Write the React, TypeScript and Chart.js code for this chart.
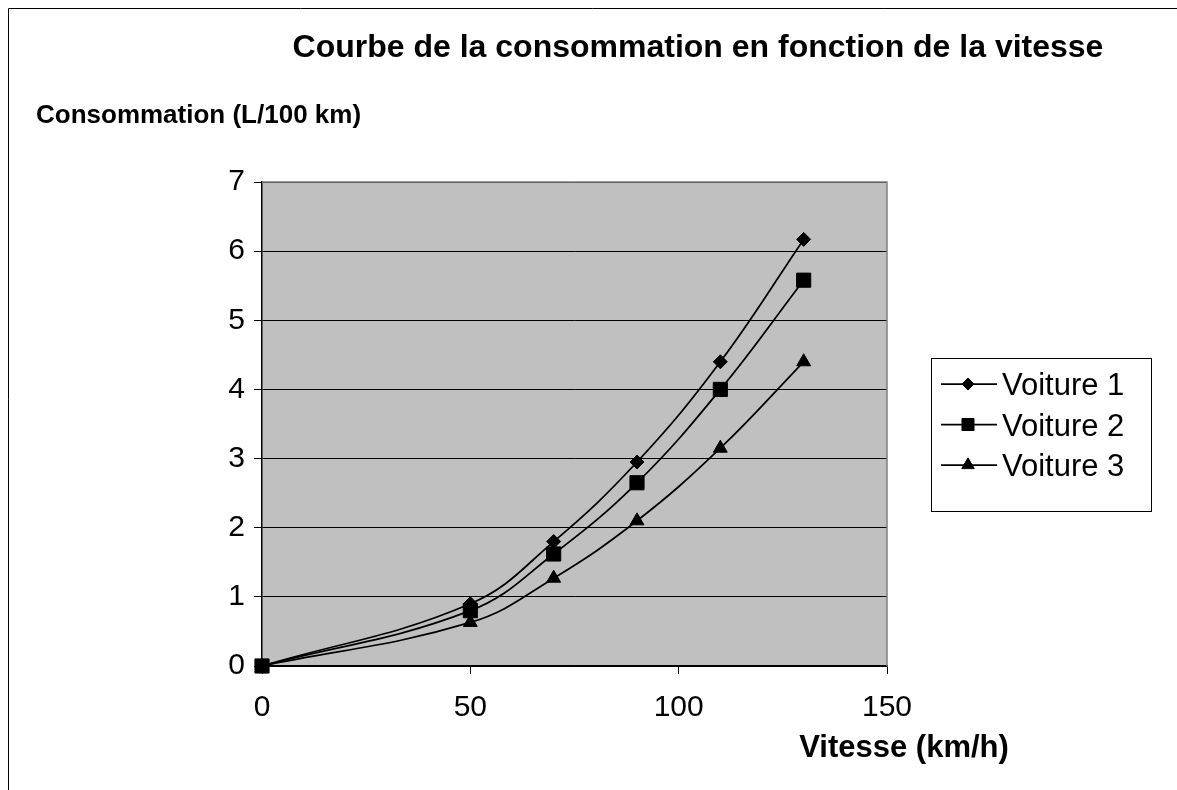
import React, { useEffect, useRef } from 'react';
import { Chart, registerables } from 'chart.js';
import { drawPoint } from 'chart.js/helpers';

Chart.register(...registerables);

const speeds = [0, 50, 70, 90, 110, 130];
const voiture1 = [0, 0.9, 1.8, 2.95, 4.4, 6.17];
const voiture2 = [0, 0.8, 1.62, 2.65, 4.0, 5.58];
const voiture3 = [0, 0.63, 1.27, 2.1, 3.15, 4.4];
const seriesNames = ['Voiture 1', 'Voiture 2', 'Voiture 3'];
const seriesValues = [voiture1, voiture2, voiture3];
const pointStyles = ['rectRot', 'rect', 'triangle'];
const pointRadii = [7, 10, 8];
const legendRadii = [6, 8.5, 7.2];
const chartTitle = 'Courbe de la consommation en fonction de la vitesse';
const yTitle = 'Consommation (L/100 km)';
const xTitle = 'Vitesse (km/h)';

const FONT = '"Liberation Sans", Arial, sans-serif';

const decorPlugin = {
  id: 'decor',
  beforeDraw(chart: any) {
    const { ctx, chartArea: a } = chart;
    ctx.save();
    ctx.fillStyle = '#fff';
    ctx.fillRect(0, 0, chart.width, chart.height);
    ctx.fillStyle = '#C0C0C0';
    ctx.fillRect(a.left, a.top, a.right - a.left, a.bottom - a.top);
    ctx.restore();
  },
  beforeDatasetsDraw(chart: any) {
    const { ctx, chartArea: a } = chart;
    ctx.save();
    ctx.strokeStyle = '#808080';
    ctx.lineWidth = 1.5;
    ctx.beginPath();
    ctx.moveTo(a.left, a.top);
    ctx.lineTo(a.right, a.top);
    ctx.lineTo(a.right, a.bottom);
    ctx.stroke();
    ctx.restore();
  },
  afterDraw(chart: any) {
    const { ctx } = chart;
    ctx.save();
    // outer frame (left and top)
    ctx.strokeStyle = '#000';
    ctx.lineWidth = 1;
    ctx.beginPath();
    ctx.moveTo(8.5, chart.height);
    ctx.lineTo(8.5, 8.5);
    ctx.lineTo(chart.width, 8.5);
    ctx.stroke();

    ctx.fillStyle = '#000';
    ctx.textBaseline = 'alphabetic';
    ctx.font = `bold 32px ${FONT}`;
    ctx.textAlign = 'center';
    ctx.fillText(chartTitle, 698, 57);

    ctx.font = `bold 26px ${FONT}`;
    ctx.textAlign = 'left';
    ctx.fillText(yTitle, 36, 123);

    ctx.font = `bold 31px ${FONT}`;
    ctx.textAlign = 'center';
    ctx.fillText(xTitle, 904, 757);

    // legend
    ctx.lineWidth = 1;
    ctx.strokeStyle = '#000';
    ctx.strokeRect(931.5, 358.5, 220, 153);
    ctx.font = `31px ${FONT}`;
    ctx.textAlign = 'left';
    const baselines = [395, 435.5, 476];
    seriesNames.forEach((name, i) => {
      const ly = baselines[i] - 11;
      ctx.strokeStyle = '#000';
      ctx.lineWidth = 1.75;
      ctx.beginPath();
      ctx.moveTo(941, ly);
      ctx.lineTo(997, ly);
      ctx.stroke();
      ctx.fillStyle = '#000';
      ctx.lineWidth = 1;
      drawPoint(ctx, { pointStyle: pointStyles[i], rotation: 0, radius: legendRadii[i], borderWidth: 1 } as any, 968, ly);
      ctx.fillStyle = '#000';
      ctx.fillText(name, 1002, baselines[i]);
    });
    ctx.restore();
  },
};

export default function App() {
  const ref = useRef<HTMLCanvasElement>(null);
  useEffect(() => {
    if (!ref.current) return;
    Chart.defaults.font.family = FONT;
    const chart = new Chart(ref.current, {
      type: 'line',
      data: {
        datasets: seriesNames.map((name, i) => ({
          label: name,
          data: speeds.map((s, j) => ({ x: s, y: seriesValues[i][j] })),
          borderColor: '#000',
          backgroundColor: '#000',
          borderWidth: 1.75,
          pointStyle: pointStyles[i] as any,
          pointRadius: pointRadii[i],
          pointBorderWidth: 1,
          pointBackgroundColor: '#000',
          pointBorderColor: '#000',
          tension: 0.4,
          fill: false,
          clip: false as any,
        })),
      },
      options: {
        animation: false,
        responsive: false,
        layout: { padding: { left: 0, top: 182, right: 290, bottom: 0 } },
        plugins: { legend: { display: false }, title: { display: false }, tooltip: { enabled: false } },
        scales: {
          x: {
            type: 'linear',
            min: 0,
            max: 150,
            ticks: { stepSize: 50, color: '#000', font: { size: 30, family: FONT }, padding: 16, maxRotation: 0 },
            grid: { drawOnChartArea: false, drawTicks: true, tickLength: 8, color: '#000', lineWidth: 1 },
            border: { color: '#000', width: 1.5 },
            afterFit: (s: any) => { s.height = 124; },
          },
          y: {
            type: 'linear',
            min: 0,
            max: 7,
            ticks: { stepSize: 1, color: '#000', font: { size: 30, family: FONT }, padding: 9 },
            grid: { drawTicks: true, tickLength: 8, color: '#000', lineWidth: 1 },
            border: { color: '#000', width: 1.5 },
            afterFit: (s: any) => { s.width = 262; },
          },
        },
      },
      plugins: [decorPlugin],
    });
    return () => chart.destroy();
  }, []);
  return (
    <div style={{ position: 'absolute', left: 0, top: 0, width: 1177, height: 790 }}>
      <canvas ref={ref} width={1177} height={790} style={{ display: 'block' }} />
    </div>
  );
}
